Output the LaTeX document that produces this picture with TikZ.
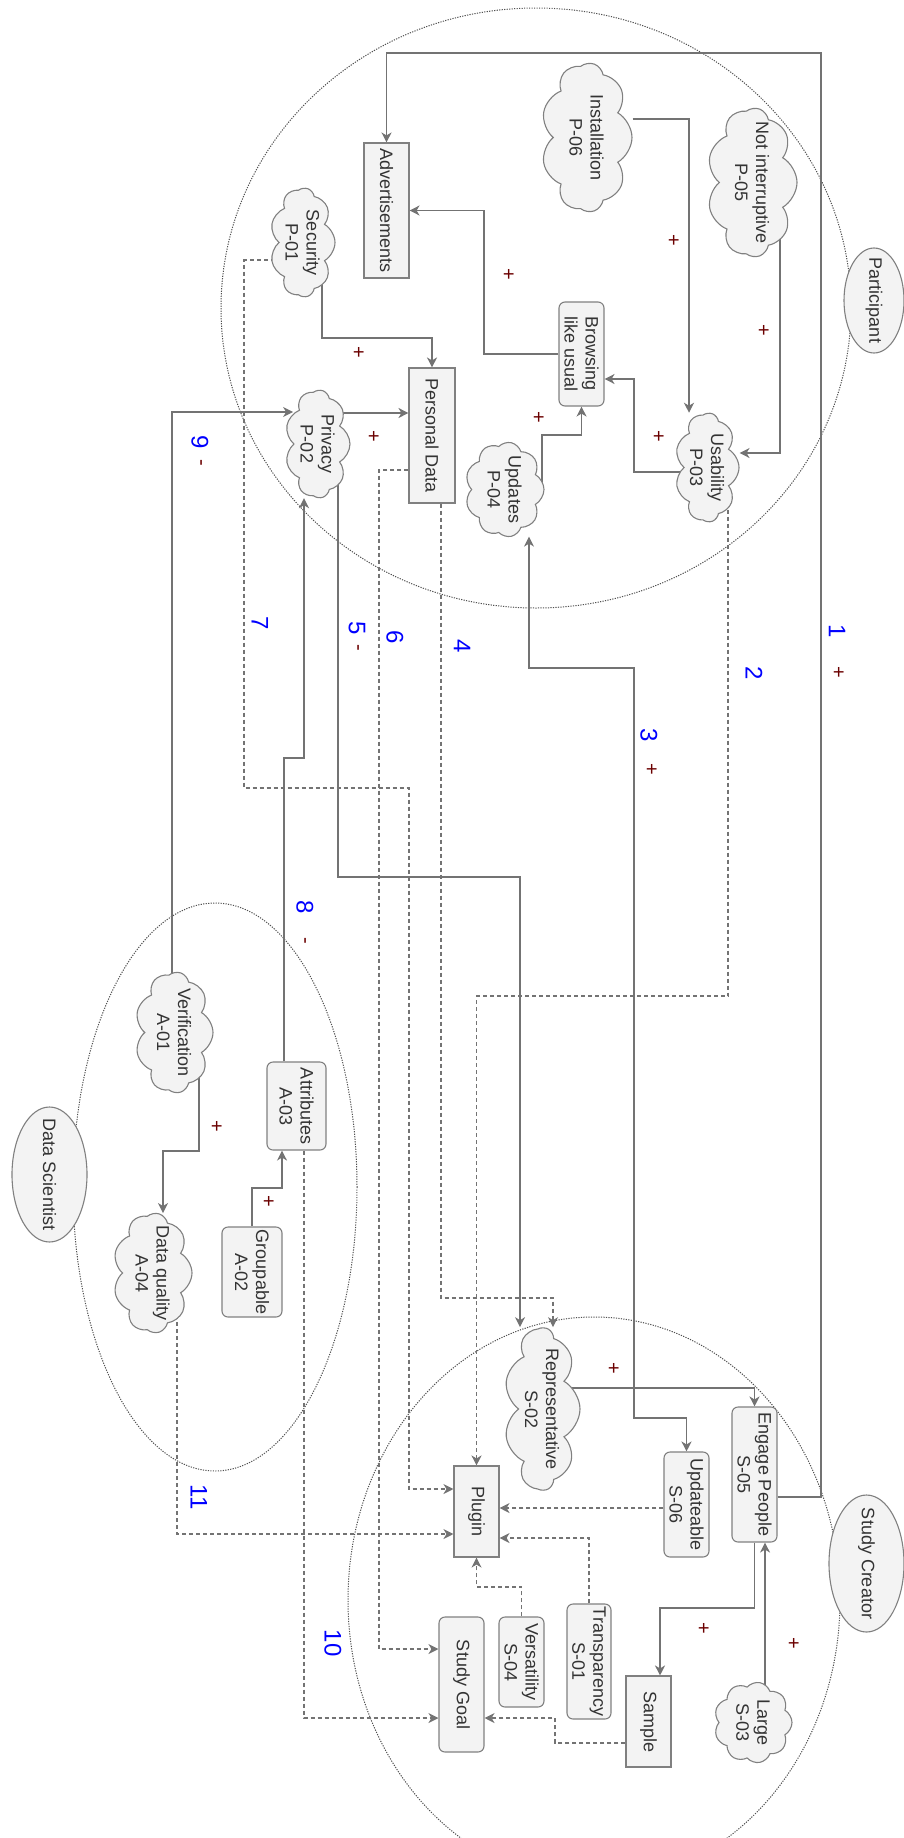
\documentclass[tikz,border=0pt]{standalone}
\usepackage{fontspec}
\setmainfont{Liberation Sans}
\usepackage{xcolor}
\usetikzlibrary{shapes.geometric, shapes.symbols, arrows.meta}
\definecolor{shapefill}{HTML}{F3F3F3}
\definecolor{shapeline}{HTML}{808080}
\definecolor{shapetext}{HTML}{333333}
\definecolor{linkgray}{HTML}{737373}
\definecolor{zonegray}{HTML}{505050}
\definecolor{signred}{HTML}{6B0000}
\pgfdeclarelayer{back}
\pgfsetlayers{back,main}

\begin{document}
\begin{tikzpicture}[
  x=1pt, y=-1pt,
  every node/.style={font=\fontsize{18}{21}\selectfont, text=shapetext},
  every label/.style={rotate=-90, align=center},
  box/.style={rectangle, draw=shapeline, fill=shapefill, line width=1.1pt, align=center, inner sep=2pt, rotate=-90},
  rbox/.style={box, rounded corners=6pt},
  puff/.style={cloud, cloud puffs=9, cloud puff arc=120, cloud ignores aspect, draw=shapeline, fill=shapefill, line width=1.1pt, inner sep=0pt, rotate=-90},
  role/.style={ellipse, draw=shapeline, fill=shapefill, line width=1.1pt, inner sep=0pt, rotate=-90},
  zone/.style={draw=zonegray, line width=1pt, dash pattern=on 1.2pt off 1.3pt},
  arrow/.style={draw=linkgray, line width=1.3pt, -{Stealth[length=10pt, width=10pt, inset=3pt]}},
  biarrow/.style={arrow, {Stealth[length=10pt, width=10pt, inset=3pt]}-{Stealth[length=10pt, width=10pt, inset=3pt]}},
  dashedarrow/.style={arrow, line width=1.1pt, dash pattern=on 4pt off 3pt},
  num/.style={text=blue, font=\fontsize{24}{28}\selectfont, rotate=-90},
  sign/.style={text=signred, font=\fontsize{20}{24}\selectfont, rotate=-90}
]
  \useasboundingbox (0,0) rectangle (904,1838);

  \node[box, minimum width=135pt, minimum height=45pt] (adverts) at (386.5,210.5) {Advertisements};
  \node[box, minimum width=135pt, minimum height=46pt] (personal) at (432,435.5) {Personal Data};
  \node[box, minimum width=91pt, minimum height=45pt] (plugin) at (476.5,1511.5) {Plugin};
  \node[box, minimum width=91pt, minimum height=45pt] (sample) at (648.5,1721.5) {Sample};
  \node[rbox, minimum width=104pt, minimum height=45pt] (browsing) at (581.5,354) {Browsing\\like usual};
  \node[rbox, minimum width=88pt, minimum height=59pt] (attributes) at (296.5,1106) {Attributes\\A-03};
  \node[rbox, minimum width=90pt, minimum height=60pt] (groupable) at (252,1272) {Groupable\\A-02};
  \node[rbox, minimum width=135pt, minimum height=45pt] (engage) at (754.5,1474.5) {Engage People\\S-05};
  \node[rbox, minimum width=105pt, minimum height=45pt] (updateable) at (686.5,1504.5) {Updateable\\S-06};
  \node[rbox, minimum width=115pt, minimum height=44pt] (transparency) at (589,1661.5) {Transparency\\S-01};
  \node[rbox, minimum width=90pt, minimum height=45pt] (versatility) at (521.5,1662) {Versatility\\S-04};
  \node[rbox, minimum width=135pt, minimum height=45pt] (goal) at (461.5,1684.5) {Study Goal};

  \node[puff, minimum width=149pt, minimum height=91pt, label={center:{Installation\\P-06}}] (installation) at (586.5,137.5) {};
  \node[puff, minimum width=149pt, minimum height=90pt, label={center:{Not interruptive\\P-05}}] (notinterrupt) at (752,182.5) {};
  \node[puff, minimum width=109pt, minimum height=65pt, label={center:{Security\\P-01}}] (security) at (302.5,242.5) {};
  \node[puff, minimum width=108pt, minimum height=65pt, label={center:{Privacy\\P-02}}] (privacy) at (317.5,444) {};
  \node[puff, minimum width=95pt, minimum height=79pt, label={center:{Updates\\P-04}}] (updates) at (504.5,489.5) {};
  \node[puff, minimum width=109pt, minimum height=64pt, label={center:{Usability\\P-03}}] (usability) at (707,467.5) {};
  \node[puff, minimum width=121pt, minimum height=78pt, label={center:{Verification\\A-01}}] (verification) at (174,1032.5) {};
  \node[puff, minimum width=120pt, minimum height=79pt, label={center:{Data quality\\A-04}}] (dataquality) at (152.5,1273) {};
  \node[puff, minimum width=162pt, minimum height=76pt, label={center:{Representative\\S-02}}] (representative) at (542,1409) {};
  \node[puff, minimum width=81pt, minimum height=78pt, label={center:{Large\\S-03}}] (large) at (753,1722.5) {};

  \node[role, minimum width=105pt, minimum height=60pt, label=center:Participant] (participant) at (874,300.5) {};
  \node[role, minimum width=135pt, minimum height=75pt, label=center:Data Scientist] (datasci) at (49.5,1174.5) {};
  \node[role, minimum width=137pt, minimum height=75pt, label=center:Study Creator] (creator) at (866.5,1563.5) {};

  \node[num] (n1) at (837,631) {1};
  \node[num] (n2) at (754,673) {2};
  \node[num] (n3) at (649,735) {3};
  \node[num] (n4) at (462,646) {4};
  \node[num] (n5) at (357,628) {5};
  \node[num] (n6) at (395,637) {6};
  \node[num] (n7) at (260,623) {7};
  \node[num] (n8) at (305,907) {8};
  \node[num] (n9) at (200,442) {9};
  \node[num] (n10) at (333,1643) {10};
  \node[num] (n11) at (199,1497) {11};

  \node[sign] (s1) at (838,672) {+};
  \node[sign] (s3) at (651,769) {+};
  \node[sign] (s5) at (356,648) {-};
  \node[sign] (s8) at (303,941) {-};
  \node[sign] (s9) at (199,463) {-};
  \node[sign] (sa) at (673,240) {+};
  \node[sign] (sb) at (763,330) {+};
  \node[sign] (sc) at (658,436) {+};
  \node[sign] (sd) at (538,417) {+};
  \node[sign] (se) at (508,274) {+};
  \node[sign] (sf) at (358,352) {+};
  \node[sign] (sg) at (373,436) {+};
  \node[sign] (sh) at (216,1126) {+};
  \node[sign] (si) at (268,1201) {+};
  \node[sign] (sj) at (613,1368) {+};
  \node[sign] (sk) at (703,1628) {+};
  \node[sign] (sl) at (793,1643) {+};

  \begin{pgfonlayer}{back}
  \draw[zone] (536,308) ellipse [x radius=315, y radius=300];
  \draw[zone] (215,1187) ellipse [x radius=142, y radius=284];
  \draw[zone] (594,1600) ellipse [x radius=246, y radius=283];

  \draw[arrow] (engage.north |- 0,1497) -| (821,53) -| (adverts.west);
  \draw[arrow] (installation.north |- 0,119) -| (usability.west -| 689,0);
  \draw[arrow] (notinterrupt.center -| 780,0) |- (usability.north |- 0,453);
  \draw[arrow] (usability.center |- 0,472) -| (634,379) -- (browsing.north |- 0,379);
  \draw[arrow] (updates.center -| 542,0) |- (browsing.east |- 0,435) -- (browsing.east);
  \draw[arrow] (browsing.south) -- (484,354) |- (adverts.north);
  \draw[arrow] (security.center -| 322,0) |- (personal.west |- 0,338) -- (personal.west);
  \draw[arrow] (privacy.center |- 0,413) -- (personal.south |- 0,413);
  \draw[arrow] (verification.center -| 172,0) |- (privacy.south |- 0,412);
  \draw[arrow] (attributes.west -| 284,0) |- (304,758) -- (privacy.east -| 304,0);
  \draw[arrow] (verification.center -| 199,0) |- (163,1151) -- (dataquality.west -| 163,0);
  \draw[arrow] (groupable.west) |- (282,1188) -- (attributes.east -| 282,0);
  \draw[arrow] (privacy.center -| 338,0) |- (520,877) -- (representative.west -| 520,0);
  \draw[dashedarrow] (personal.east -| 441,0) |- (553,1298) -- (representative.west -| 553,0);
  \draw[biarrow] (updateable.west) |- (634,1418) |- (529,668) -- (updates.east -| 529,0);
  \draw[arrow] (representative.center |- 0,1388) -| (engage.west);
  \draw[arrow] (engage.east) |- (660,1608) -- (sample.west -| 660,0);
  \draw[arrow] (large.center -| 765,0) -- (engage.east -| 765,0);
  \draw[dashedarrow] (usability.center -| 728,0) |- (plugin.west |- 0,996) -- (plugin.west);
  \draw[dashedarrow] (security.center |- 0,260) -| (244,788) -| (409,1489) -- (plugin.south |- 0,1489);
  \draw[dashedarrow] (personal.south |- 0,470) -| (379,1649) -- (goal.south |- 0,1649);
  \draw[dashedarrow] (attributes.east -| 304,0) |- (goal.south |- 0,1718);
  \draw[dashedarrow] (dataquality.center -| 177,0) |- (plugin.south |- 0,1534);
  \draw[dashedarrow] (updateable.south |- 0,1508) -- (plugin.north |- 0,1508);
  \draw[dashedarrow] (transparency.west) |- (plugin.north |- 0,1538);
  \draw[dashedarrow] (versatility.west) |- (plugin.east |- 0,1587) -- (plugin.east);
  \draw[dashedarrow] (sample.south |- 0,1743) -| (555,1718) -- (goal.north |- 0,1718);
  \end{pgfonlayer}
\end{tikzpicture}
\end{document}
